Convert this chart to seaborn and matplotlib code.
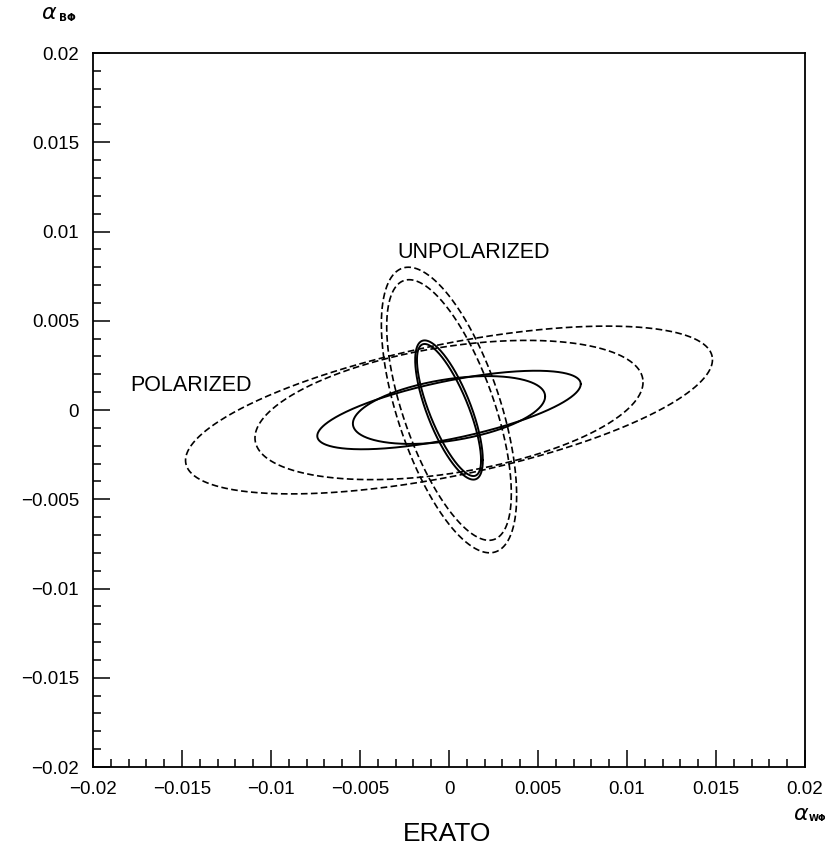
import numpy as np
import pandas as pd
import seaborn as sns
import matplotlib.pyplot as plt
from matplotlib.ticker import MultipleLocator

# contour parameters (centre, half width, half height, correlation)
curve_names = ['pol_dash_outer', 'pol_dash_inner', 'pol_solid_outer', 'pol_solid_inner',
               'unpol_dash_outer', 'unpol_dash_inner', 'unpol_solid_outer', 'unpol_solid_inner']
center_x = [0.0, 0.0, 0.0, 0.0, 0.0, 0.0, 0.0, 0.0]
center_y = [0.0, 0.0, 0.0, 0.0, 0.0, 0.0, 0.0, 0.0]
half_width = [0.0148, 0.0109, 0.0074, 0.0054, 0.0038, 0.0035, 0.0019, 0.0018]
half_height = [0.0047, 0.0039, 0.0022, 0.0019, 0.0080, 0.0073, 0.0039, 0.0037]
correlation = [0.60, 0.40, 0.66, 0.40, -0.60, -0.64, -0.72, -0.76]
dashed = [True, True, False, False, True, True, False, False]

tick_values = [-0.02, -0.015, -0.01, -0.005, 0, 0.005, 0.01, 0.015, 0.02]
tick_labels = ['\u22120.02', '\u22120.015', '\u22120.01', '\u22120.005', '0',
               '0.005', '0.01', '0.015', '0.02']

sns.set_style('ticks')
plt.rcParams['font.family'] = ['Liberation Sans', 'DejaVu Sans']
plt.rcParams['mathtext.fontset'] = 'dejavusans'
plt.rcParams['text.color'] = 'black'
plt.rcParams['xtick.labelcolor'] = 'black'
plt.rcParams['ytick.labelcolor'] = 'black'

fig = plt.figure(figsize=(8.25, 8.48), dpi=100)
ax = fig.add_axes([0.1127, 0.0955, 0.8631, 0.842])

t = np.linspace(0, 2 * np.pi, 500)
for i, name in enumerate(curve_names):
    d = np.arccos(correlation[i])
    df = pd.DataFrame({'x': center_x[i] + half_width[i] * np.cos(t),
                       'y': center_y[i] + half_height[i] * np.cos(t + d)})
    if dashed[i]:
        sns.lineplot(data=df, x='x', y='y', sort=False, estimator=None, ax=ax,
                     color='black', lw=1.2, linestyle=(0, (4, 2)))
    else:
        sns.lineplot(data=df, x='x', y='y', sort=False, estimator=None, ax=ax,
                     color='black', lw=1.4)

ax.set_xlim(-0.02, 0.02)
ax.set_ylim(-0.02, 0.02)
ax.set_xticks(tick_values)
ax.set_xticklabels(tick_labels)
ax.set_yticks(tick_values)
ax.set_yticklabels(tick_labels)
ax.xaxis.set_minor_locator(MultipleLocator(0.001))
ax.yaxis.set_minor_locator(MultipleLocator(0.001))
ax.tick_params(which='both', direction='in', top=False, right=False,
               color='black', width=1.1)
ax.tick_params(which='major', length=12, labelsize=13.5, pad=10,
               labelcolor='black')
ax.tick_params(which='minor', length=6)
ax.set_xlabel('')
ax.set_ylabel('')
for sp in ax.spines.values():
    sp.set_visible(True)
    sp.set_color('black')
    sp.set_linewidth(1.3)

ax.text(-0.0179, 0.0014, 'POLARIZED', fontsize=15.5, ha='left', va='center')
ax.text(-0.0029, 0.0088, 'UNPOLARIZED', fontsize=15.5, ha='left', va='center')

# axis names drawn as a greek letter plus a small subscript
fig.text(0.050, 0.984, r'$\alpha$', fontsize=16, ha='left', va='center')
fig.text(0.071, 0.979, 'B\u03a6', fontsize=7.5, ha='left', va='center',
         family=['DejaVu Sans'], weight='bold')
fig.text(0.961, 0.040, r'$\alpha$', fontsize=16, ha='left', va='center')
fig.text(0.980, 0.035, 'W\u03a6', fontsize=6.5, ha='left', va='center',
         family=['DejaVu Sans'], weight='bold')
fig.text(0.542, 0.017, 'ERATO', fontsize=19, ha='center', va='center')

fig.savefig('out.png', dpi=100)
